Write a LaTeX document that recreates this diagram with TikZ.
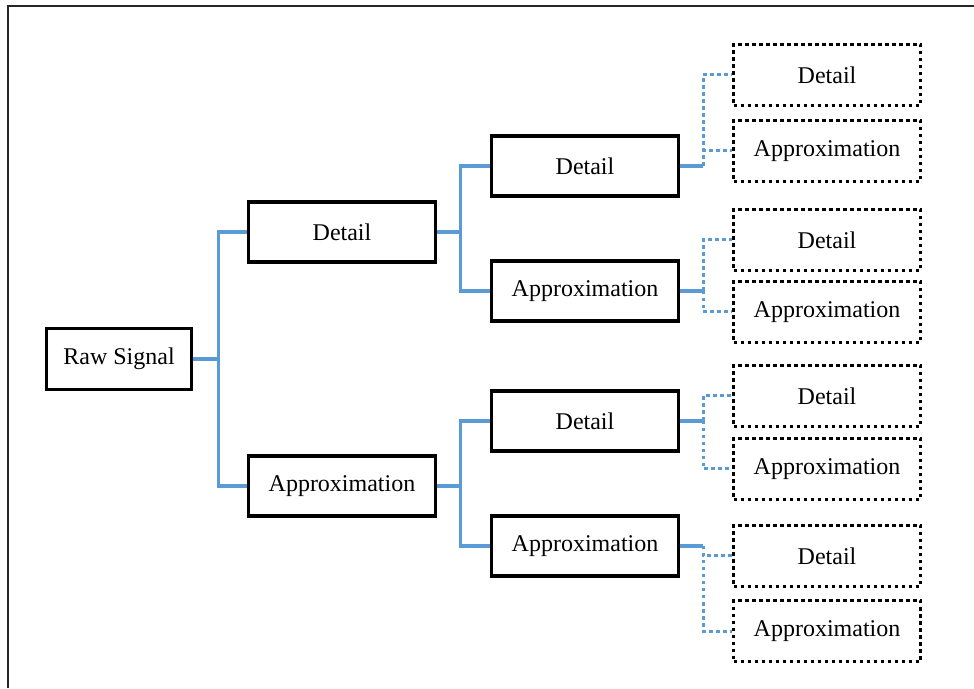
\documentclass[tikz,border=0pt]{standalone}
\usepackage{fontspec}
\setmainfont{Liberation Serif}
\usetikzlibrary{positioning}
\definecolor{linkblue}{RGB}{91,155,213}

\begin{document}
\begin{tikzpicture}[x=1pt,y=1pt,on grid,
box/.style={rectangle,draw,line width=3.5pt,minimum width=187pt,minimum height=60pt,
inner sep=0pt,font=\fontsize{24}{29}\selectfont},
leaf/.style={box,line width=3.5pt,dash pattern=on 3.5pt off 3.5pt,minimum height=61pt},
link/.style={draw=linkblue,line width=3.5pt},
dotlink/.style={link,line width=3pt,dash pattern=on 3.5pt off 3.5pt}]
\useasboundingbox (0,0) rectangle (974,688);
\draw[line width=2.5pt,black!85] (8,0) -- (8,682) -- (974,682);

\node[box,minimum width=145pt,minimum height=61pt] (raw) at (119,329) {Raw Signal};
\node[box,above right=127pt and 223pt of raw] (d) {Detail};
\node[box,below right=127pt and 223pt of raw] (a) {Approximation};
\node[box,above right=66pt and 243pt of d] (dd) {Detail};
\node[box,below right=59pt and 243pt of d] (da) {Approximation};
\node[box,above right=65pt and 243pt of a] (ad) {Detail};
\node[box,below right=60pt and 243pt of a] (aa) {Approximation};

\node[leaf] (ddd) at (827,613) {Detail};
\node[leaf,below=76pt of ddd] (dda) {Approximation};
\node[leaf,below=89pt of dda] (dad) {Detail};
\node[leaf,below=72pt of dad] (daa) {Approximation};
\node[leaf,below=84pt of daa] (add) {Detail};
\node[leaf,below=73pt of add] (ada) {Approximation};
\node[leaf,below=87pt of ada] (aad) {Detail};
\node[leaf,below=75pt of aad] (aaa) {Approximation};

\coordinate[right=25pt of raw.east] (j0);
\coordinate[right=23pt of d.east] (jd);
\coordinate[right=23pt of a.east] (ja);
\coordinate[right=23pt of dd.east] (jdd);
\coordinate[right=23pt of da.east] (jda);
\coordinate[right=23pt of ad.east] (jad);
\coordinate[right=23pt of aa.east] (jaa);

\draw[link] (raw.east) -- (j0) (j0) |- (d.west) (j0) |- (a.west);
\draw[link] (d.east) -- (jd) (jd) |- (dd.west) (jd) |- (da.west);
\draw[link] (a.east) -- (ja) (ja) |- (ad.west) (ja) |- (aa.west);

\draw[link] (dd.east) -- (jdd);
\draw[link] (da.east) -- (jda);
\draw[link] (ad.east) -- (jad);
\draw[link] (aa.east) -- (jaa);
\draw[dotlink] (jdd) |- (ddd.west) (jdd) |- (dda.west);
\draw[dotlink] (jda) |- (dad.west) (jda) |- (daa.west);
\draw[dotlink] (jad) |- (add.west) (jad) |- (ada.west);
\draw[dotlink] (jaa) |- (aad.west) (jaa) |- (aaa.west);
\end{tikzpicture}
\end{document}
